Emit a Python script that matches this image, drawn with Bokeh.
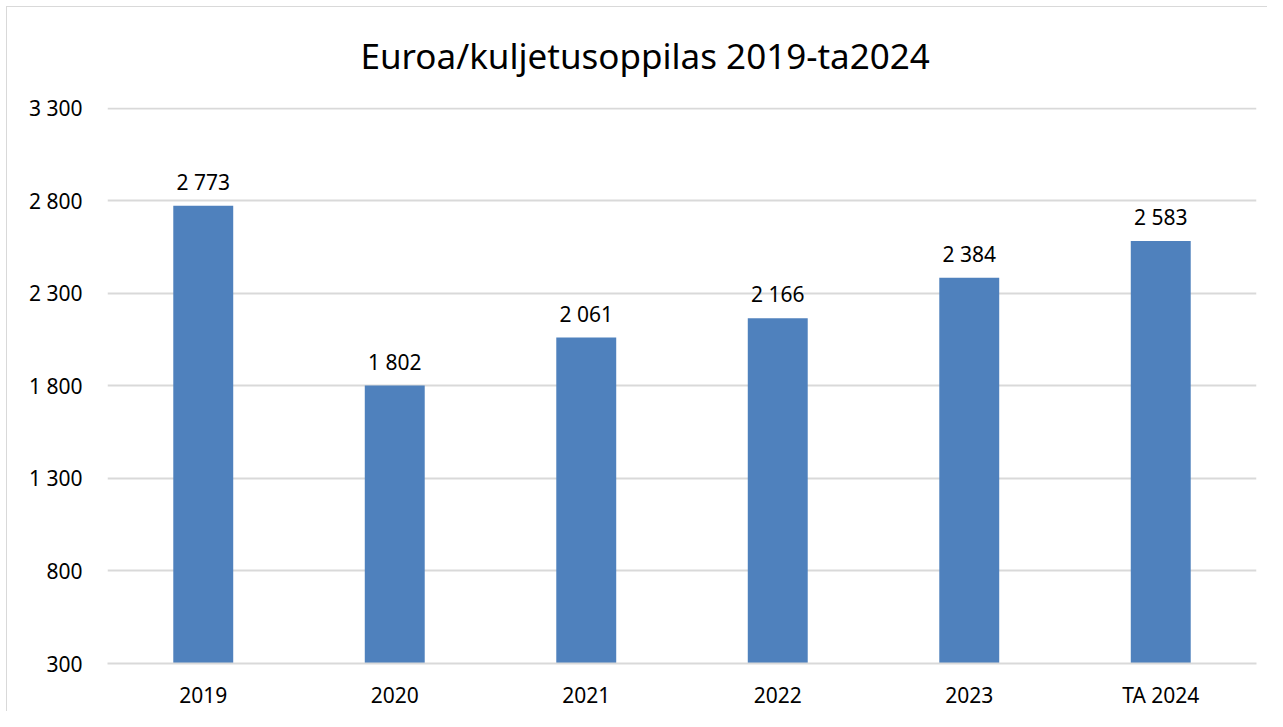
from bokeh.plotting import figure
from bokeh.models import FixedTicker, ColumnDataSource, Title, Range1d
from bokeh.core.properties import value
from bokeh.embed import file_html
from bokeh.resources import INLINE

categories = ["2019", "2020", "2021", "2022", "2023", "TA 2024"]
values = [2773, 1802, 2061, 2166, 2384, 2583]
y_ticks = [300, 800, 1300, 1800, 2300, 2800, 3300]
title_text = "Euroa/kuljetusoppilas 2019-ta2024"

def fmt(v):
    return f"{v:,}".replace(",", " ")

FONT = "Noto Sans"
BAR = "#4F81BD"
GRID = "#D9D9D9"

src = ColumnDataSource(dict(cat=categories, val=values, lab=[fmt(v) for v in values]))

p = figure(
    x_range=categories, y_range=Range1d(300, 3304),
    width=1267, height=711,
    output_backend="svg", toolbar_location=None,
    min_border_left=107, min_border_right=11, min_border_top=107, min_border_bottom=48,
)
p.styles = {
    "background": "linear-gradient(#D9D9D9,#D9D9D9) 6px 6px / 1px 100% no-repeat, "
                  "linear-gradient(#D9D9D9,#D9D9D9) 6px 6px / 100% 1px no-repeat, white",
}
p.x_range.range_padding = 0
p.outline_line_color = None
p.background_fill_color = "white"
p.border_fill_color = None

p.vbar(x="cat", top="val", bottom=300, width=0.313, color=BAR, line_color=None, source=src)

p.text(x="cat", y="val", text="lab", source=src, text_align="center", text_baseline="alphabetic",
       y_offset=-24, text_font=value(FONT), text_font_size="21px", text_color="#000000")

p.yaxis.ticker = FixedTicker(ticks=y_ticks)
p.yaxis.major_label_overrides = {t: fmt(t) for t in y_ticks}
p.yaxis.axis_line_color = None
p.yaxis.major_tick_line_color = None
p.yaxis.minor_tick_line_color = None
p.yaxis.major_label_standoff = 19
p.yaxis.major_label_text_font = FONT
p.yaxis.major_label_text_font_size = "21px"
p.yaxis.major_label_text_color = "#000000"

p.xaxis.axis_line_color = GRID
p.xaxis.axis_line_width = 2
p.xaxis.major_tick_line_color = None
p.xaxis.minor_tick_line_color = None
p.xaxis.major_label_standoff = 11
p.xaxis.major_label_text_font = FONT
p.xaxis.major_label_text_font_size = "21px"
p.xaxis.major_label_text_color = "#000000"

p.xgrid.grid_line_color = None
p.ygrid.grid_line_color = GRID
p.ygrid.grid_line_width = 2

p.title = Title(text=title_text, align="left", offset=253, standoff=58,
                text_font=FONT, text_font_size="35px", text_font_style="normal",
                text_color="#000000")

open("out.html", "w").write(file_html(p, INLINE))
